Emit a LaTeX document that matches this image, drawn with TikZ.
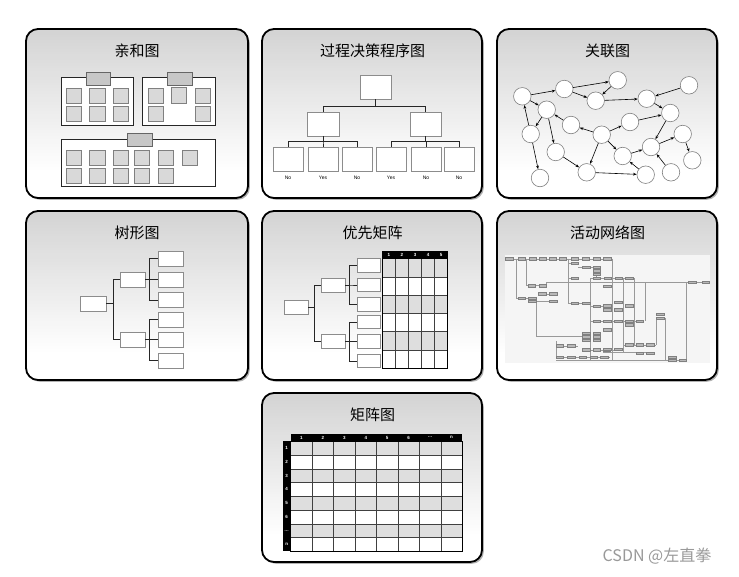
\documentclass[tikz,border=0pt]{standalone}
\usepackage{fontspec}
\setmainfont{Liberation Sans}
\newfontfamily\cjk{Noto Sans CJK SC}
\usetikzlibrary{arrows.meta}
\newcommand\mypanel[4]{%
  \fill[black!30, rounded corners=12] (#1+1.8,#2+1.8) rectangle (#3+1.8,#4+1.8);
  \begin{scope}
    \clip[rounded corners=12] (#1,#2) rectangle (#3,#4);
    \fill[white] (#1,#2) rectangle (#3,#4);
    \foreach \k in {0,...,59}{%
      \pgfmathsetmacro\gv{max(0,17*(1-\k/50))}%
      \fill[black!\gv] (#1,{#2+\k*(#4-#2)/60}) rectangle (#3,{#2+(\k+1.3)*(#4-#2)/60});
    }
  \end{scope}
  \draw[line width=1.8, rounded corners=12] (#1,#2) rectangle (#3,#4);}
\newcommand\mydots{\ldots}
\tikzset{
  ttl/.style={font=\cjk\fontsize{15}{15}\selectfont, inner sep=0},
  sq/.style={draw=black!50, fill=black!15, line width=0.6},
  grp/.style={draw=black!85, fill=white, line width=0.8},
  tabbox/.style={draw=black!60, fill=black!22, line width=0.6},
  pb/.style={draw=black!45, fill=white, line width=0.7, inner sep=0},
  conn/.style={draw=black!85, line width=0.8},
  lbl/.style={font=\fontsize{5}{5}\selectfont, inner sep=0},
  cir/.style={circle, draw=black!50, fill=white, minimum size=17.5, inner sep=0, line width=0.6},
  arr/.style={-{Stealth[length=3.6,width=2.8]}, line width=0.6, black},
  netl/.style={draw=black!40, line width=0.4},
  netb/.style={draw=black!50, fill=black!28, line width=0.2},
  hdr/.style={font=\bfseries\fontsize{4.5}{5}\selectfont, text=white, inner sep=0},
}
\begin{document}
\begin{tikzpicture}[x=1pt,y=-1pt]
\useasboundingbox (0,0) rectangle (739,576);
\fill[white] (0,0) rectangle (739,576);

% ---------- panels ----------
\mypanel{26}{29}{248}{198}
\mypanel{262}{29}{482}{198}
\mypanel{497}{29}{717}{198}
\mypanel{26}{211}{248}{380}
\mypanel{262}{211}{482}{380}
\mypanel{497}{211}{717}{380}
\mypanel{262}{393}{482}{562}

\node[ttl] (t1) at (137,51) {亲和图};
\node[ttl] (t2) at (372.5,51) {过程决策程序图};
\node[ttl] (t3) at (607.5,51) {关联图};
\node[ttl] (t4) at (137,233) {树形图};
\node[ttl] (t5) at (372.5,233) {优先矩阵};
\node[ttl] (t6) at (607.5,233) {活动网络图};
\node[ttl] (t7) at (372.5,415) {矩阵图};

% ---------- 1: affinity ----------
\draw[grp] (61,77) rectangle (133,125);
\draw[grp] (142,77) rectangle (215,125);
\draw[grp] (61,139) rectangle (215,186);
\foreach \x in {66,89.5,113} \foreach \y in {88,106} \draw[sq] (\x,\y) rectangle ++(15.5,15.5);
\foreach \x/\y in {148/88,171/87.5,195/88,148/106,195/106} \draw[sq] (\x,\y) rectangle ++(15.5,15.5);
\foreach \x in {66,89.5,113,134,158,182} \draw[sq] (\x,150) rectangle ++(15.5,15.5);
\foreach \x in {66,89.5,113,134,158} \draw[sq] (\x,168) rectangle ++(15.5,15.5);
\draw[tabbox] (86,72) rectangle (110,85);
\draw[tabbox] (167,72) rectangle (192,85);
\draw[tabbox] (127,133) rectangle (152,146);

% ---------- 2: PDPC ----------
\node[pb, minimum width=31, minimum height=24] (p2t) at (375.5,87) {};
\node[pb, minimum width=32, minimum height=24] (p2l) at (323,124) {};
\node[pb, minimum width=31, minimum height=24] (p2r) at (425.5,124) {};
\foreach \n/\x in {1/288,2/323,3/357,4/391,5/426,6/459}
  \node[pb, minimum width=30, minimum height=24] (p2b\n) at (\x,159) {};
\draw[conn] (p2t.south) -- ++(0,7) -| (p2l.north);
\draw[conn] (p2t.south) -- ++(0,7) -| (p2r.north);
\foreach \n in {1,2,3} \draw[conn] (p2l.south) -- ++(0,5) -| (p2b\n.north);
\foreach \n in {4,5,6} \draw[conn] (p2r.south) -- ++(0,5) -| (p2b\n.north);
\foreach \n/\t in {1/No,2/Yes,3/No,4/Yes,5/No,6/No}
  \node[lbl, anchor=north] (p2l\n) at ([yshift=-5]p2b\n.south) {\t};

% ---------- 3: relations ----------
\foreach \n/\x/\y in {1/522.3/96.3, 2/564.3/89, 3/617.7/80.3, 4/595.7/100.7, 5/646.7/98.7,
  6/689/85.3, 7/546.7/109.7, 8/670.3/113, 9/530.7/134, 10/571/125, 11/630/122,
  12/601.7/134.7, 13/682.7/134, 14/555.7/152, 15/622.7/156, 16/651/147,
  17/692.3/160.3, 18/586.7/172.3, 19/540/178, 20/645.7/174.7, 21/671/172.3}
  \node[cir] (c\n) at (\x,\y) {};
\foreach \a/\b in {1/2, 2/3, 3/4, 2/4, 4/5, 6/5, 5/8, 1/7, 7/9, 9/1, 9/19, 7/14,
  12/10, 10/7, 12/11, 12/18, 12/15, 14/18, 18/20, 15/16, 20/15, 8/16, 11/8,
  16/13, 13/17, 21/16}
  \draw[arr] (c\a) -- (c\b);

% ---------- 4: tree ----------
\node[pb, minimum width=26, minimum height=15] (r4) at (93,303.5) {};
\node[pb, minimum width=25, minimum height=15] (m4a) at (132.5,279.5) {};
\node[pb, minimum width=25, minimum height=15] (m4b) at (132.5,339.5) {};
\foreach \n/\y in {1/258.5,2/279.5,3/300,4/319.5,5/339.5,6/360.5}
  \node[pb, minimum width=25, minimum height=15] (l4\n) at (170.5,\y) {};
\draw[conn] (r4.east) -- ++(6.7,0) |- (m4a.west);
\draw[conn] (r4.east) -- ++(6.7,0) |- (m4b.west);
\foreach \n in {1,2,3} \draw[conn] (m4a.east) -- ++(4.3,0) |- (l4\n.west);
\foreach \n in {4,5,6} \draw[conn] (m4b.east) -- ++(4.3,0) |- (l4\n.west);

% ---------- 5: priority matrix ----------
\node[pb, minimum width=24, minimum height=14] (r5) at (296,307) {};
\node[pb, minimum width=24, minimum height=14] (m5a) at (333,285) {};
\node[pb, minimum width=24, minimum height=14] (m5b) at (333,341.5) {};
\foreach \n/\y in {1/265.5,2/285,3/304.5,4/322,5/341.5,6/361}
  \node[pb, minimum width=23, minimum height=13.5] (l5\n) at (368.5,\y) {};
\draw[conn] (r5.east) -- ++(6.3,0) |- (m5a.west);
\draw[conn] (r5.east) -- ++(6.3,0) |- (m5b.west);
\foreach \n in {1,2,3} \draw[conn] (m5a.east) -- ++(4.3,0) |- (l5\n.west);
\foreach \n in {4,5,6} \draw[conn] (m5b.east) -- ++(4.3,0) |- (l5\n.west);
\foreach \i in {0,2,4} \fill[black!13] (382.3,259+\i*18.17) rectangle (447.7,259+\i*18.17+18.17);
\foreach \i in {1,3,5} \fill[white] (382.3,259+\i*18.17) rectangle (447.7,259+\i*18.17+18.17);
\foreach \i in {1,2,3,4,5} \draw[black!75, line width=0.5] (382.3,259+\i*18.17) -- (447.7,259+\i*18.17);
\foreach \i in {1,2,3,4} \draw[black!75, line width=0.5] (382.3+\i*13.08,259) -- (382.3+\i*13.08,368);
\fill[black] (382.3,251) rectangle (447.7,259);
\draw[black, line width=0.8] (382.3,251) rectangle (447.7,368);
\foreach \i in {1,2,3,4,5} \node[hdr] (h5\i) at (382.3+\i*13.08-6.54,255) {\i};

% ---------- 6: activity network ----------
\fill[black!4] (505,255) rectangle (710,363);
\draw[netl] (506,258.7) -- (610,258.7);
\draw[netl] (515.7,258.7) -- (515.7,298) -- (536,298);
\draw[netl] (525.7,258.7) -- (525.7,285.5) -- (546,285.5) -- (546,282.3) -- (702,282.3);
\draw[netl] (538,293.7) -- (558,293.7);
\draw[netl] (528,301.3) -- (557,301.3);
\draw[netl] (536,301.3) -- (536,336) -- (591,336);
\draw[netl] (568,258.7) -- (568,303) -- (590,303);
\draw[netl] (568,263) -- (578,263);
\draw[netl] (568,278) -- (578,278);
\draw[netl] (578,267) -- (600,267);
\draw[netl] (596.5,267) -- (596.5,278.3);
\draw[netl] (590,278) -- (590,360.3);
\draw[netl] (590,278.3) -- (633,278.3);
\draw[netl] (612,258.7) -- (612,360.3);
\draw[netl] (623,278) -- (623,353);
\draw[netl] (633.7,278) -- (633.7,345);
\draw[netl] (644.7,282.3) -- (644.7,321.3);
\draw[netl] (590,306) -- (610,306);
\draw[netl] (590,321.3) -- (644,321.3);
\draw[netl] (556,341) -- (556,357) -- (610,357);
\draw[netl] (556,345.7) -- (578,345.7);
\draw[netl] (582,349.7) -- (622,349.7);
\draw[netl] (623,344.7) -- (656,344.7);
\draw[netl] (656,318) -- (656,344.7);
\draw[netl] (664.7,318) -- (664.7,360.3);
\draw[netl] (686.3,282.3) -- (686.3,360.3);
\draw[netl] (603,352.3) -- (654,352.3);
\draw[netl] (556,360.3) -- (686,360.3);
\draw[netl] (603,329.7) -- (612,329.7);
\foreach \x/\y in {509/258.7,521.5/258.7,532.5/258.7,542.5/258.7,552.5/258.7,562.5/258.7,
  574.5/258.7,585.5/258.7,596.5/258.7,607/258.7,
  574.5/263,574.5/278,586/267,596.5/267,596.5/270.5,596.5/274,
  596.7/278.3,607.7/278.3,618.3/278.3,629/278.3,
  521.5/298,532/298,542/293.7,553/293.7,532/301.3,553/301.3,
  531.5/285.5,542.5/285.5,
  574.5/303,586/303,596.5/306,607/306,596.5/321,
  586/333.3,586/336.7,586/340,596.5/333.3,596.5/336.7,596.5/340,
  559.5/345.7,571/345.7,586/349.7,596.5/349.7,606.5/349.7,
  559.5/357,571/357,582.5/357,593.5/357,604/357,
  692/282.3,705.5/282.3,607/286.3,618/302.3,607/305.7,629/305.7,607/309.7,618/309.7,
  660/314,660/318,607/321.3,618/321.3,629/321.3,639.7/321.3,629/324.7,607/329.7,
  629/344.7,639.7/344.7,650/344.7,607/349,618/349,639.7/353,650/353,
  672/357,672/360.3,682.5/360.3}
  \filldraw[netb] (\x-3.6,\y-1.2) rectangle (\x+3.6,\y+1.2);

% ---------- 7: matrix ----------
\foreach \i in {0,2,4,6} \fill[black!13] (290.7,441.3+\i*13.75) rectangle (462.3,441.3+\i*13.75+13.75);
\foreach \i in {1,3,5,7} \fill[white] (290.7,441.3+\i*13.75) rectangle (462.3,441.3+\i*13.75+13.75);
\foreach \i in {1,2,3,4,5,6,7} \draw[black!75, line width=0.5] (290.7,441.3+\i*13.75) -- (462.3,441.3+\i*13.75);
\foreach \i in {1,2,3,4,5,6,7} \draw[black!75, line width=0.5] (290.7+\i*21.45,441.3) -- (290.7+\i*21.45,551.3);
\fill[black] (290.7,434) rectangle (462.3,441.3);
\fill[black] (282.7,441.3) rectangle (290.7,551.3);
\draw[black, line width=0.8] (290.7,441.3) rectangle (462.3,551.3);
\foreach \i/\t in {1/1,2/2,3/3,4/4,5/5,6/6,7/\mydots,8/n}
  \node[hdr] (h7\i) at (290.7+\i*21.45-10.72,437.6) {\t};
\foreach \i/\t in {1/1,2/2,3/3,4/4,5/5,6/6,7/\mydots,8/n}
  \node[hdr] (v7\i) at (286.7,441.3+\i*13.75-6.87) {\t};

% ---------- watermark ----------
\node[font=\cjk\fontsize{16}{16}\selectfont, text=black!40, inner sep=0] (wm) at (657,556) {CSDN @左直拳};
\end{tikzpicture}
\end{document}
